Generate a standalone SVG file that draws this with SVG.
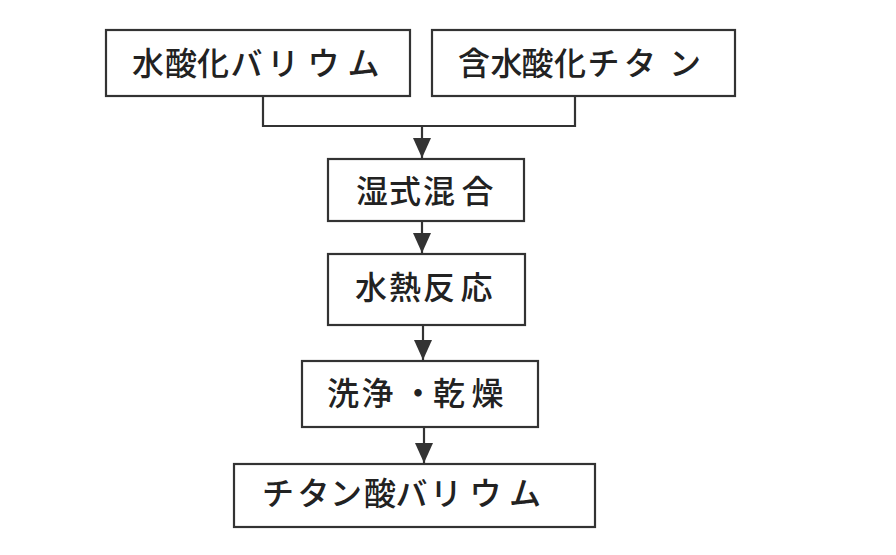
<svg xmlns="http://www.w3.org/2000/svg" width="896" height="555" viewBox="0 0 896 555">
<style>
.box{fill:#fff;stroke:#333;stroke-width:2.2}
.lbl{font-family:"Noto Sans CJK JP","Noto Sans CJK SC",sans-serif;font-size:32px;font-weight:500;fill:#222;text-anchor:middle}
.con{fill:none;stroke:#333;stroke-width:2.2}
</style>
<defs>
<marker id="ah" markerUnits="userSpaceOnUse" markerWidth="20" markerHeight="18" viewBox="0 0 20 18" refX="20" refY="9" orient="auto">
<path d="M0,0 L20,9 L0,18 Z" fill="#333"/>
</marker>
</defs>
<rect width="896" height="555" fill="#fff"/>
<g id="connectors">
<polyline class="con" points="263,96 263,126 575,126 575,96"/>
<line class="con" x1="422" y1="126" x2="422" y2="158" marker-end="url(#ah)"/>
<line class="con" x1="422" y1="221" x2="422" y2="253" marker-end="url(#ah)"/>
<line class="con" x1="423" y1="325" x2="423" y2="360" marker-end="url(#ah)"/>
<line class="con" x1="424" y1="427" x2="424" y2="463" marker-end="url(#ah)"/>
</g>
<g id="n1">
<rect class="box" x="106" y="30" width="304" height="66"/>
<text class="lbl" x="148 181 213 246.5 283 323.5 363.5" y="74.5">水酸化バリウム</text>
</g>
<g id="n2">
<rect class="box" x="432" y="30" width="303" height="66"/>
<text class="lbl" x="474 506.5 537.5 570 603.5 640 685" y="74.5">含水酸化チタン</text>
</g>
<g id="n3">
<rect class="box" x="328" y="159" width="196" height="62"/>
<text class="lbl" x="372 405 439 477.5" y="202.5">湿式混合</text>
</g>
<g id="n4">
<rect class="box" x="328" y="254" width="197" height="71"/>
<text class="lbl" x="371 405 439 476.5" y="299">水熱反応</text>
</g>
<g id="n5">
<rect class="box" x="302" y="361" width="236" height="66"/>
<text class="lbl" x="343 377.5 418 449 487.5" y="404.5">洗浄・乾燥</text>
</g>
<g id="n6">
<rect class="box" x="234" y="464" width="361" height="63"/>
<text class="lbl" x="278 313.5 346 380 411.5 446 485.5 525" y="504.5">チタン酸バリウム</text>
</g>
</svg>
